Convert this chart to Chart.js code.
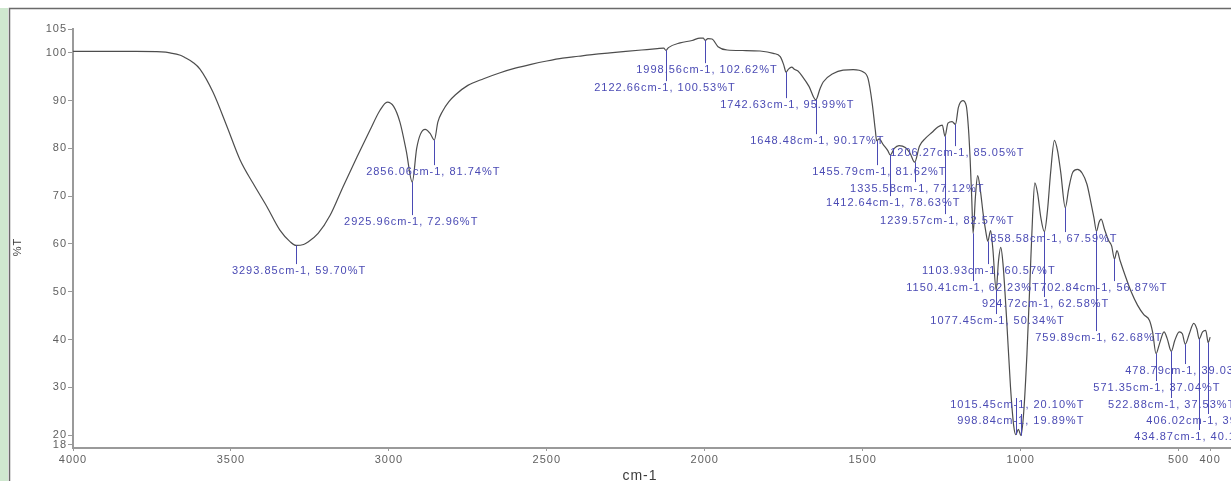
<!DOCTYPE html>
<html>
<head>
<meta charset="utf-8">
<script src="https://cdn.jsdelivr.net/npm/chart.js@4"></script>
<style>
  html, body { margin: 0; padding: 0; background: #fff; }
  #wrap { position: relative; width: 1231px; height: 481px; }
</style>
</head>
<body>
<div id="wrap"><canvas id="ir" width="1231" height="481"></canvas></div>
<script>
// FTIR spectrum: wavenumber (cm-1) and transmittance (%T)
const wavenumbers = [
  4000, 3900, 3800, 3720, 3693, 3660, 3645, 3620, 3598, 3557, 3512, 3471, 3430, 3386, 3345, 3313,
  3293.85, 3270, 3256, 3224, 3186, 3145, 3101, 3060, 3028, 3005, 2985, 2965, 2945, 2925.96, 2912,
  2900, 2885, 2870, 2856.06, 2845, 2830, 2810, 2790, 2750, 2700, 2650, 2600, 2550, 2500, 2450,
  2400, 2350, 2300, 2250, 2200, 2150, 2130, 2122.66, 2115, 2078, 2040, 2015, 2005, 1998.56, 1990,
  1977, 1958, 1929, 1880, 1825, 1783, 1761, 1750, 1742.63, 1735, 1725, 1715, 1705, 1690, 1670,
  1648.48, 1635, 1625, 1593, 1562, 1530, 1498, 1483, 1470, 1460, 1455.79, 1448, 1435, 1420,
  1412.64, 1400, 1385, 1365, 1350, 1335.58, 1320, 1300, 1280, 1262, 1248, 1239.57, 1230, 1217,
  1206.27, 1197, 1183, 1172, 1165, 1160, 1155, 1150.41, 1143, 1136, 1128, 1118, 1110, 1103.93,
  1095, 1088, 1077.45, 1070, 1063, 1056, 1045, 1032, 1022, 1015.45, 1007, 998.84, 990, 980, 970,
  962, 955, 946, 936, 924.72, 915, 905, 893, 883, 873, 858.58, 848, 835, 820, 805, 790, 777, 768,
  759.89, 752, 745, 735, 722, 712, 702.84, 695, 685, 668, 650, 630, 610, 592, 582, 571.35, 560,
  546, 536, 522.88, 512, 498, 488, 478.79, 466, 452, 442, 434.87, 424, 414, 406.02, 400
];
const transmittance = [
  100.3, 100.3, 100.3, 100.2, 100.0, 99.5, 99.0, 98.0, 96.6, 91.8, 84.5, 77.6, 72.7, 67.8, 62.9, 60.5,
  59.70, 59.9, 60.4, 62.2, 66.0, 72.0, 78.2, 83.8, 88.0, 89.7, 88.8, 85.5, 79.5, 72.96, 80.0,
  83.0, 84.0, 83.2, 81.74, 85.5, 87.8, 89.8, 91.2, 93.2, 94.6, 95.8, 96.8, 97.6, 98.3, 98.9,
  99.3, 99.7, 100.0, 100.3, 100.6, 100.9, 101.0, 100.53, 101.1, 102.1, 102.6, 103.1, 103.1, 102.62, 103.0,
  102.9, 101.3, 100.6, 100.5, 100.4, 99.9, 99.2, 97.5, 95.99, 96.6, 97.0, 96.5, 96.2, 95.0, 93.0,
  90.17, 92.5, 93.9, 95.7, 96.4, 96.5, 96.0, 94.6, 89.5, 83.8, 81.62, 82.0, 80.8, 79.5,
  78.63, 80.0, 80.6, 80.2, 79.0, 77.12, 80.5, 82.2, 83.4, 84.5, 84.9, 82.57, 85.3, 85.6,
  85.05, 88.6, 90.0, 88.9, 84.0, 78.0, 70.0, 62.23, 70.0, 74.3, 71.5, 66.0, 62.5, 60.57,
  62.8, 59.0, 50.34, 56.5, 59.3, 56.0, 45.0, 30.0, 22.0, 20.10, 21.2, 19.89, 25.0, 37.0, 53.0,
  66.0, 72.8, 70.5, 65.5, 62.58, 67.0, 75.0, 81.7, 79.5, 75.0, 67.59, 71.5, 75.0, 75.6, 74.8, 72.5, 68.5, 65.5,
  62.68, 64.5, 65.2, 63.2, 60.8, 59.6, 56.87, 58.6, 56.5, 53.2, 50.0, 47.2, 45.2, 44.0, 41.5, 37.04, 39.2,
  41.6, 40.2, 37.53, 39.8, 41.6, 41.2, 39.03, 41.2, 43.4, 42.2, 40.12, 41.6, 41.9, 39.35, 40.5
];

// Labelled absorption peaks
const peakWavenumbers = [
  3293.85, 2925.96, 2856.06, 1998.56, 2122.66, 1742.63, 1648.48, 1206.27, 1455.79, 1335.58,
  1412.64, 1239.57, 858.58, 1103.93, 1150.41, 702.84, 924.72, 1077.45, 759.89, 478.79,
  571.35, 1015.45, 522.88, 998.84, 406.02, 434.87
];
const peakTransmittance = [
  59.70, 72.96, 81.74, 102.62, 100.53, 95.99, 90.17, 85.05, 81.62, 77.12,
  78.63, 82.57, 67.59, 60.57, 62.23, 56.87, 62.58, 50.34, 62.68, 39.03,
  37.04, 20.10, 37.53, 19.89, 39.35, 40.12
];

// Where each peak caption sits: left edge (cm-1) and middle (%T)
const captionLeft = [
  3497, 3142, 3072, 2217, 2350, 1951, 1856, 1413, 1660, 1540,
  1616, 1445, 1096, 1312, 1362, 938, 1122, 1286, 954, 669,
  770, 1223, 723, 1201, 602, 640
];
const captionMid = [
  54.33, 64.58, 75.04, 96.38, 92.62, 89.06, 81.53, 79.02, 75.04, 71.49,
  68.56, 64.79, 61.03, 54.33, 50.77, 50.77, 47.43, 43.87, 40.31, 33.41,
  29.85, 26.30, 26.30, 22.95, 22.95, 19.60
];

const xTickValues = [4000, 3500, 3000, 2500, 2000, 1500, 1000, 500, 400];
const yTickValues = [18, 20, 30, 40, 50, 60, 70, 80, 90, 100, 105];

const curveColor = '#4d4d4d';
const peakColor = '#4a4ab4';
const axisColor = '#9a9a9a';
const tickTextColor = '#5f5f5f';

// Window frame around the plot
const framePlugin = {
  id: 'frame',
  beforeDraw(chart) {
    const ctx = chart.ctx;
    ctx.save();
    ctx.fillStyle = '#ffffff';
    ctx.fillRect(0, 0, chart.width, chart.height);
    ctx.fillStyle = '#cfe8cf';
    ctx.fillRect(0, 8, 8, chart.height - 8);
    ctx.strokeStyle = '#6a6a6a';
    ctx.lineWidth = 1.5;
    ctx.beginPath();
    ctx.moveTo(9.5, chart.height);
    ctx.lineTo(9.5, 8.5);
    ctx.lineTo(chart.width, 8.5);
    ctx.stroke();
    ctx.restore();
    ctx.letterSpacing = '1px';
  }
};

// Peak markers and captions, plus axis titles
const peakPlugin = {
  id: 'peaks',
  afterDatasetsDraw(chart) {
    const { ctx, scales: { x, y } } = chart;
    ctx.save();
    ctx.font = '11px "Liberation Sans", Arial, sans-serif';
    ctx.letterSpacing = '1px';
    ctx.textAlign = 'left';
    ctx.textBaseline = 'middle';
    ctx.fillStyle = peakColor;
    ctx.strokeStyle = peakColor;
    ctx.lineWidth = 1;
    peakWavenumbers.forEach((wn, i) => {
      const t = peakTransmittance[i];
      const px = Math.round(x.getPixelForValue(wn)) + 0.5;
      const py = y.getPixelForValue(t);
      const lx = x.getPixelForValue(captionLeft[i]);
      const ly = y.getPixelForValue(captionMid[i]);
      ctx.fillText(wn.toFixed(2) + 'cm-1, ' + t.toFixed(2) + '%T', lx, ly);
      ctx.beginPath();
      ctx.moveTo(px, py);
      ctx.lineTo(px, ly - 7);
      ctx.stroke();
    });
    ctx.restore();
  },
  afterDraw(chart) {
    const ctx = chart.ctx;
    ctx.save();
    ctx.fillStyle = '#3c3c3c';
    ctx.textAlign = 'center';
    ctx.textBaseline = 'middle';
    ctx.letterSpacing = '1px';
    ctx.font = '14px "Liberation Sans", Arial, sans-serif';
    ctx.fillText('cm-1', 640, 476);
    ctx.translate(18, 247);
    ctx.rotate(-Math.PI / 2);
    ctx.font = '11px "Liberation Sans", Arial, sans-serif';
    ctx.fillText('%T', 0, 0);
    ctx.restore();
  }
};

const points = wavenumbers.map((wn, i) => ({ x: wn, y: transmittance[i] }));
const plainNumber = v => String(v);

new Chart(document.getElementById('ir'), {
  type: 'scatter',
  data: {
    datasets: [{
      data: points,
      showLine: true,
      borderColor: curveColor,
      borderWidth: 1.2,
      pointRadius: 0,
      cubicInterpolationMode: 'monotone',
      fill: false
    }]
  },
  options: {
    responsive: false,
    devicePixelRatio: 1,
    animation: false,
    layout: { padding: { top: 29, left: 0, right: 0, bottom: 0 } },
    plugins: { legend: { display: false }, tooltip: { enabled: false } },
    scales: {
      x: {
        type: 'linear',
        reverse: true,
        min: 334,
        max: 4000,
        border: { color: axisColor, width: 2 },
        grid: { drawOnChartArea: false, drawTicks: true, tickLength: 3, color: axisColor },
        ticks: {
          color: tickTextColor,
          font: { size: 11, family: '"Liberation Sans", Arial, sans-serif' },
          autoSkip: false, maxRotation: 0, padding: 2,
          callback: plainNumber
        },
        afterBuildTicks: s => { s.ticks = xTickValues.map(v => ({ value: v })); },
        afterFit: s => { s.height = 33; }
      },
      y: {
        type: 'linear',
        min: 17.3,
        max: 105,
        border: { color: axisColor, width: 2 },
        grid: { drawOnChartArea: false, drawTicks: true, tickLength: 5, color: axisColor },
        ticks: {
          color: tickTextColor,
          font: { size: 11, family: '"Liberation Sans", Arial, sans-serif' },
          autoSkip: false, padding: 1,
          callback: plainNumber
        },
        afterBuildTicks: s => { s.ticks = yTickValues.map(v => ({ value: v })); },
        afterFit: s => { s.width = 73; }
      }
    }
  },
  plugins: [framePlugin, peakPlugin]
});
</script>
</body>
</html>
